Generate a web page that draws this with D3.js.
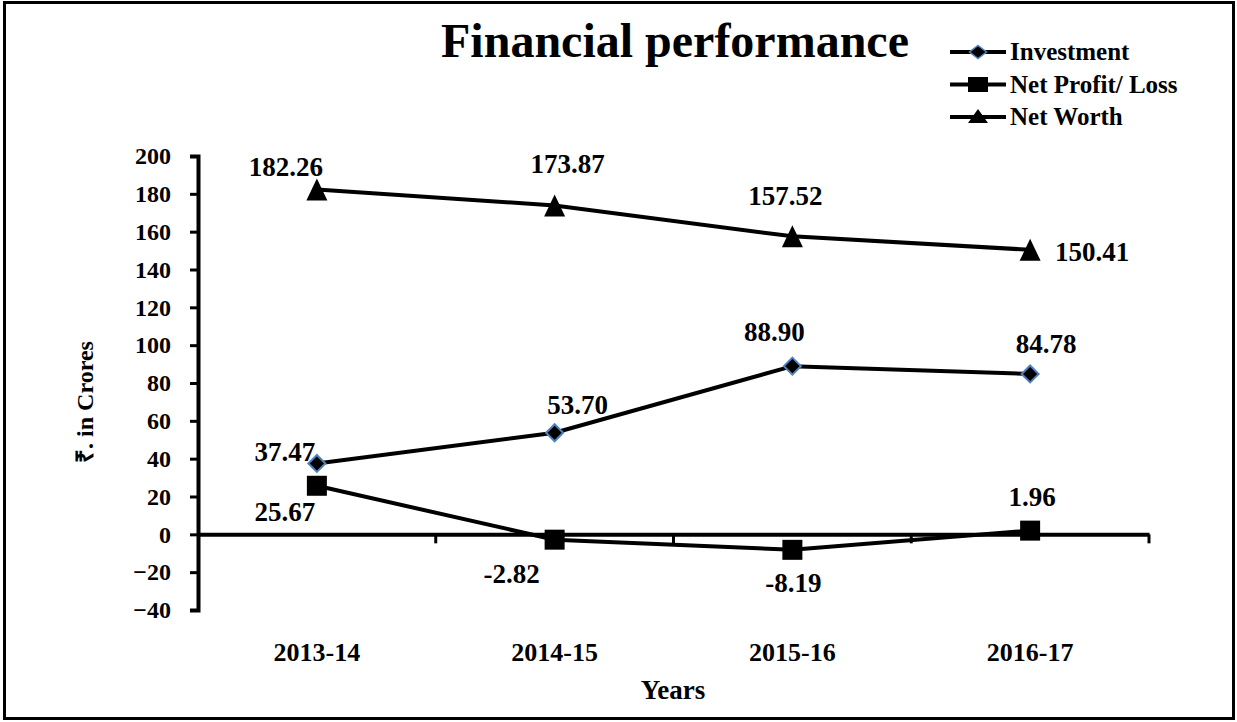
<!DOCTYPE html>
<html>
<head>
<meta charset="utf-8">
<script src="https://cdn.jsdelivr.net/npm/d3@7"></script>
<style>
  body { margin: 0; background: #fff; }
  text { font-family: "Liberation Serif", "Times New Roman", serif; font-weight: bold; fill: #000; }
</style>
</head>
<body>
<div id="plot"></div>
<script>
// chart data
var years = ["2013-14", "2014-15", "2015-16", "2016-17"];
var investment = [37.47, 53.70, 88.90, 84.78];
var netProfit = [25.67, -2.82, -8.19, 1.96];
var netWorth = [182.26, 173.87, 157.52, 150.41];
var yTicks = [-40, -20, 0, 20, 40, 60, 80, 100, 120, 140, 160, 180, 200];
var legendNames = ["Investment", "Net Profit/ Loss", "Net Worth"];

const W = 1237, H = 722;
const margin = {top: 156, right: 88, bottom: 112, left: 198},
    width = W - margin.left - margin.right,
    height = H - margin.top - margin.bottom;

var svg = d3.select("div#plot")
  .append("svg")
    .attr("width", W)
    .attr("height", H);

// outer frame
svg.append("rect")
  .attr("x", 4.5).attr("y", 2.5)
  .attr("width", W - 8).attr("height", H - 6)
  .attr("fill", "none").attr("stroke", "#000").attr("stroke-width", 3);

var g = svg.append("g")
  .attr("transform", "translate(" + margin.left + "," + margin.top + ")");

var x = d3.scaleBand().domain(years).range([0, width]);
var y = d3.scaleLinear().domain([-40, 200]).range([height, 0]);

// y axis
var yAxis = g.append("g")
  .call(d3.axisLeft(y).tickValues(yTicks).tickSize(8).tickSizeOuter(8).tickPadding(19));
yAxis.select(".domain").attr("stroke-width", 4);
yAxis.selectAll(".tick line").attr("stroke-width", 3);
yAxis.selectAll("text").style("font-size", "24px");

// x axis along zero line
var xAxis = g.append("g")
  .attr("transform", "translate(0," + y(0) + ")")
  .call(d3.axisBottom(x).tickSize(0).tickSizeOuter(0).tickFormat(""));
xAxis.select(".domain").attr("stroke-width", 4);
// boundary ticks between categories
g.selectAll(".xtick")
  .data(years)
  .enter().append("line")
    .attr("x1", d => x(d) + x.bandwidth())
    .attr("x2", d => x(d) + x.bandwidth())
    .attr("y1", y(0))
    .attr("y2", y(0) + 9)
    .attr("stroke", "#000").attr("stroke-width", 3);

// category labels
g.selectAll(".cat")
  .data(years)
  .enter().append("text")
    .attr("x", d => x(d) + x.bandwidth() / 2)
    .attr("y", height + 51)
    .attr("text-anchor", "middle")
    .style("font-size", "26px")
    .text(d => d);

var cx = function(i) { return x(years[i]) + x.bandwidth() / 2; };

var line = d3.line()
  .x((d, i) => cx(i))
  .y(d => y(d));

[investment, netProfit, netWorth].forEach(function(s) {
  g.append("path")
    .datum(s)
    .attr("fill", "none")
    .attr("stroke", "#000")
    .attr("stroke-width", 4)
    .attr("d", line);
});

// marker shapes (w x h boxes centred on the point)
function diamondPath(w, h) {
  var p = d3.path();
  p.moveTo(0, -h / 2); p.lineTo(w / 2, 0); p.lineTo(0, h / 2); p.lineTo(-w / 2, 0); p.closePath();
  return p.toString();
}
function squarePath(w, h) {
  var p = d3.path();
  p.rect(-w / 2, -h / 2, w, h);
  return p.toString();
}
function trianglePath(w, h) {
  var p = d3.path();
  p.moveTo(0, -h / 2); p.lineTo(w / 2, h / 2); p.lineTo(-w / 2, h / 2); p.closePath();
  return p.toString();
}

g.selectAll(".inv").data(investment).enter().append("path")
  .attr("d", diamondPath(17, 17))
  .attr("transform", (d, i) => "translate(" + cx(i) + "," + y(d) + ")")
  .attr("fill", "#000").attr("stroke", "#4f81bd").attr("stroke-width", 2);
g.selectAll(".np").data(netProfit).enter().append("path")
  .attr("d", squarePath(20, 20))
  .attr("transform", (d, i) => "translate(" + cx(i) + "," + y(d) + ")")
  .attr("fill", "#000");
g.selectAll(".nw").data(netWorth).enter().append("path")
  .attr("d", trianglePath(21, 22))
  .attr("transform", (d, i) => "translate(" + cx(i) + "," + y(d) + ")")
  .attr("fill", "#000");

// data labels: offsets per point
var invOff = [[-32, -11], [23, -28], [-18, -34], [16, -30]];
var npOff = [[-32, 26], [-43, 34], [1, 33], [2, -34]];
var nwOff = [[-31, -22], [13, -41], [-7, -40], [62, 2]];

function labels(vals, offs) {
  g.selectAll(null).data(vals).enter().append("text")
    .attr("x", (d, i) => cx(i) + offs[i][0])
    .attr("y", (d, i) => y(d) + offs[i][1])
    .attr("text-anchor", "middle")
    .attr("dy", "0.33em")
    .style("font-size", "27px")
    .text(d => d.toFixed(2));
}
labels(investment, invOff);
labels(netProfit, npOff);
labels(netWorth, nwOff);

// axis titles
svg.append("text")
  .attr("x", 673)
  .attr("y", 699)
  .attr("text-anchor", "middle")
  .style("font-size", "27px")
  .text("Years");

svg.append("text")
  .attr("transform", "translate(93,402) rotate(-90)")
  .attr("text-anchor", "middle")
  .style("font-size", "24px")
  .text("₹. in Crores");

// title
svg.append("text")
  .attr("x", 675)
  .attr("y", 57)
  .attr("text-anchor", "middle")
  .style("font-size", "48px")
  .text("Financial performance");

// legend
var legendSyms = [diamondPath(17, 13), squarePath(20, 15), trianglePath(20, 14)];
var lg = svg.append("g").attr("transform", "translate(950,52)");
legendNames.forEach(function(name, i) {
  var row = lg.append("g").attr("transform", "translate(0," + (i * 32.5) + ")");
  row.append("line").attr("x1", 0).attr("x2", 56).attr("y1", 0).attr("y2", 0)
    .attr("stroke", "#000").attr("stroke-width", 4);
  var sym = row.append("path")
    .attr("transform", "translate(28," + (i === 2 ? -1 : 0) + ")")
    .attr("d", legendSyms[i])
    .attr("fill", "#000");
  if (i === 0) sym.attr("stroke", "#4f81bd").attr("stroke-width", 1.5);
  row.append("text")
    .attr("x", 60).attr("y", 0).attr("dy", "0.33em")
    .style("font-size", "25px")
    .text(name);
});
</script>
</body>
</html>
